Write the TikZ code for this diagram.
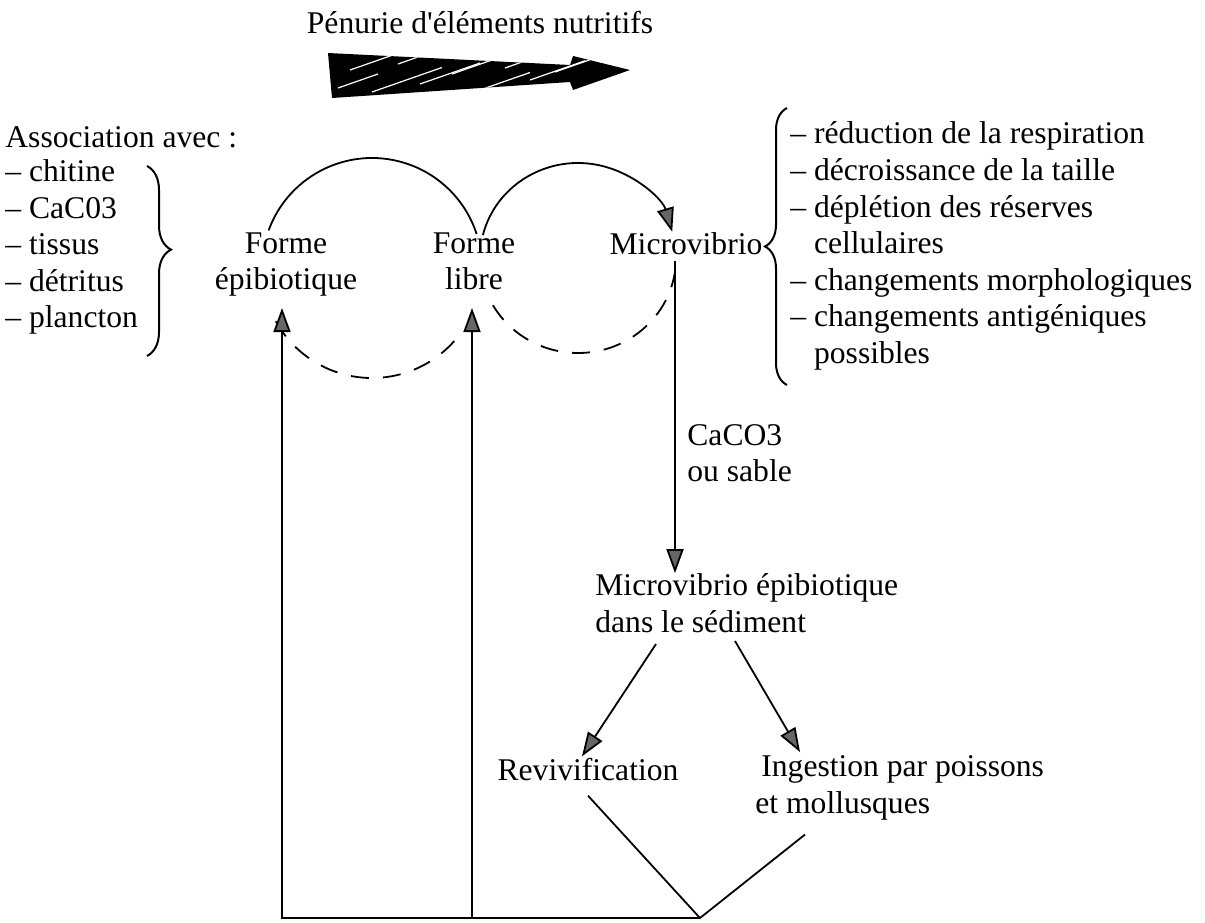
\documentclass[tikz,border=0pt]{standalone}
\usepackage{fontspec}
\setmainfont{Liberation Serif}
\usetikzlibrary{arrows.meta,decorations.pathreplacing}

\tikzset{
  txt/.style={inner sep=0pt, align=left, font=\fontsize{15.8}{18.3}\selectfont},
  fleche/.style={-{Triangle[length=12pt,width=8.5pt,fill=black!60]}},
  trait/.style={line width=0.9pt},
  pointille/.style={line width=0.9pt, dash pattern=on 9pt off 7pt},
}

\begin{document}
\begin{tikzpicture}[x=0.5pt,y=0.5pt]
\useasboundingbox (0,0) rectangle (1205,-922);

% titre et fleche hachuree
\node[txt] (titre) at (480,-23) {Pénurie d\textquotesingle éléments nutritifs};
\fill (328,-53) -- (570,-65) -- (573,-56) -- (630,-70) -- (573,-90) -- (570,-82) -- (332,-98) -- cycle;
\begin{scope}
\clip (328,-53) -- (570,-65) -- (573,-56) -- (630,-70) -- (573,-90) -- (570,-82) -- (332,-98) -- cycle;
\foreach \d/\h/\l in {338/-88/40, 350/-70/55, 372/-92/70, 398/-64/45, 420/-84/60, 452/-74/80, 480/-90/50, 505/-68/70, 530/-80/55, 555/-72/40}
  \draw[white, line width=0.6pt] (\d,\h) -- ++(\l,0.35*\l);
\end{scope}

% textes
\node[txt, anchor=west] (assoc) at (5,-137) {Association avec :};
\node[txt, anchor=west] (liste) at (5,-247) {– chitine\\– CaC03\\– tissus\\– détritus\\– plancton};
\node[txt, align=center, anchor=north] (epi) at (286,-232) {Forme\\épibiotique};
\node[txt, align=center, anchor=north] (libre) at (474,-232) {Forme\\libre};
\node[txt, anchor=north] (micro) at (686,-232) {Microvibrio};
\node[txt, anchor=west] (effets) at (790,-246) {– réduction de la respiration\\– décroissance de la taille\\– déplétion des réserves\\\hphantom{– }cellulaires\\– changements morphologiques\\– changements antigéniques\\\hphantom{– }possibles};
\node[txt, anchor=west] (sable) at (687,-453) {CaCO3\\ou sable};
\node[txt, anchor=west] (sed) at (595,-603) {Microvibrio épibiotique\\dans le sédiment};
\node[txt] (reviv) at (588,-770) {Revivification};
\node[txt, anchor=west] (ingest) at (755,-788) {\hspace*{3pt}Ingestion par poissons\\et mollusques};

% accolades
\draw[line width=1pt, decorate, decoration={brace, amplitude=12pt, aspect=0.44}] (147,-166) -- (147,-356);
\draw[line width=1pt, decorate, decoration={brace, amplitude=11pt, aspect=0.5}] (787,-385) -- (787,-108);

% cycles
\coordinate (cg) at (372,-268);
\coordinate (cd) at (578,-258);
\draw[trait] (cg) ++(160:110) arc[start angle=160, end angle=18, radius=110];
\draw[pointille] (cg) ++(209:110) arc[start angle=209, end angle=323, radius=110];
\draw[trait, fleche] (cd) ++(166:98 and 95) arc[start angle=166, end angle=16, x radius=98, y radius=95];
\draw[pointille] (cd) ++(353:98 and 95) arc[start angle=353, end angle=205, x radius=98, y radius=95];

% fleches
\coordinate (axe) at (675,0);
\coordinate (s1) at (656,-644);
\coordinate (s2) at (735,-641);
\coordinate (coin) at (700,-918);
\coordinate (pe) at (282,-308);
\coordinate (pl) at (472,-308);
\draw[trait, fleche] (micro.south -| axe) ++(0,-6) -- (sed.north -| axe);
\draw[trait, fleche] (s1) -- ([xshift=-3pt,yshift=1pt]reviv.north);
\draw[trait, fleche] (s2) -- (800,-752);
\draw[trait] ([yshift=-7pt]reviv.south) -- (coin) -- ([xshift=25pt,yshift=-7pt]ingest.south west);
\draw[trait, fleche] (coin) -- (coin -| pe) -- (pe);
\draw[trait, fleche] (coin -| pl) -- (pl);
\end{tikzpicture}
\end{document}
